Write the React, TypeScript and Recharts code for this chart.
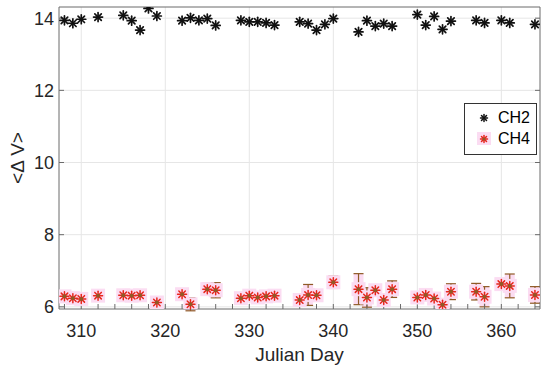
import { ScatterChart, Scatter, XAxis, YAxis, ErrorBar, ReferenceLine, Legend } from 'recharts';

const FONT = '"Liberation Sans", Arial, Helvetica, sans-serif';
const AXIS = '#6b6b6b';
const TEXT = '#262626';
const GRID = '#e6e6e6';
const PINK = '#fbdcf2';
const RED = '#e8261c';
const BROWN = '#8f5a26';

// CH2 (top row)
const ch2Days = [308, 309, 310, 312, 315, 316, 317, 318, 319, 322, 323, 324, 325, 326, 329, 330, 331, 332, 333, 336, 337, 338, 339, 340, 343, 344, 345, 346, 347, 350, 351, 352, 353, 354, 357, 358, 360, 361, 364];
const ch2Values = [13.94, 13.86, 13.97, 14.03, 14.08, 13.93, 13.67, 14.27, 14.06, 13.93, 14.01, 13.94, 13.99, 13.8, 13.94, 13.9, 13.9, 13.87, 13.81, 13.9, 13.85, 13.67, 13.83, 13.99, 13.62, 13.93, 13.78, 13.85, 13.78, 14.1, 13.81, 14.05, 13.69, 13.92, 13.94, 13.87, 13.94, 13.87, 13.83];

// CH4 (bottom row, with error bars)
const ch4Days = [308, 309, 310, 312, 315, 316, 317, 319, 322, 323, 325, 326, 329, 330, 331, 332, 333, 336, 337, 338, 340, 343, 344, 345, 346, 347, 350, 351, 352, 353, 354, 357, 358, 360, 361, 364];
const ch4Values = [6.29, 6.24, 6.22, 6.31, 6.32, 6.31, 6.32, 6.12, 6.35, 6.07, 6.49, 6.46, 6.24, 6.31, 6.26, 6.29, 6.31, 6.19, 6.33, 6.32, 6.68, 6.49, 6.26, 6.46, 6.19, 6.49, 6.26, 6.33, 6.23, 6.06, 6.42, 6.42, 6.28, 6.63, 6.58, 6.33];
const ch4Errors = [0.05, 0.04, 0.05, 0.04, 0.05, 0.05, 0.06, 0.06, 0.06, 0.18, 0.16, 0.21, 0.08, 0.06, 0.14, 0.06, 0.06, 0.06, 0.29, 0.14, 0.17, 0.43, 0.27, 0.15, 0.05, 0.23, 0.06, 0.05, 0.08, 0.08, 0.22, 0.23, 0.28, 0.06, 0.33, 0.23];

const xTicks = [308, 310, 312, 314, 316, 318, 320, 322, 324, 326, 328, 330, 332, 334, 336, 338, 340, 342, 344, 346, 348, 350, 352, 354, 356, 358, 360, 362, 364];
const xMajor = [310, 320, 330, 340, 350, 360];
const yTicks = [6, 8, 10, 12, 14];

const xDomain = [307.35, 364.6];
const yDomain = [5.94, 14.31];

const ch2Rows = ch2Days.map((day, i) => ({ day, v: ch2Values[i] }));
const ch4Rows = ch4Days.map((day, i) => ({ day, v: ch4Values[i], err: ch4Errors[i] }));

const Asterisk = ({ cx, cy, color, r = 4.5, w = 1.5 }: any) => {
  const d = r * 0.72;
  return (
    <g stroke={color} strokeWidth={w} strokeLinecap="round">
      <line x1={cx - r} y1={cy} x2={cx + r} y2={cy} />
      <line x1={cx} y1={cy - r} x2={cx} y2={cy + r} />
      <line x1={cx - d} y1={cy - d} x2={cx + d} y2={cy + d} />
      <line x1={cx - d} y1={cy + d} x2={cx + d} y2={cy - d} />
    </g>
  );
};

const Ch2Shape = (props: any) => <Asterisk cx={props.cx} cy={props.cy} color="#111" w={1.7} />;

const Ch4Shape = (props: any) => (
  <g>
    <Asterisk cx={props.cx} cy={props.cy} color={RED} />
    <circle cx={props.cx} cy={props.cy} r={2} fill={BROWN} />
  </g>
);

const PinkShape = (props: any) => (
  <rect x={props.cx - 7} y={props.cy - 7} width={14} height={14} fill={PINK} />
);

const LegendBox = () => (
  <div
    style={{
      position: 'relative',
      width: 71,
      height: 50,
      border: '1px solid #333',
      background: '#fff',
      fontFamily: FONT,
      fontSize: 16,
      color: '#000',
    }}
  >
    <svg width={30} height={50} style={{ position: 'absolute', left: 0, top: 0 }}>
      <Asterisk cx={19} cy={14} color="#111" r={3.5} />
      <rect x={12} y={28} width={14} height={13} fill={PINK} />
      <Asterisk cx={19} cy={35} color={RED} r={3.5} />
      <circle cx={19} cy={35} r={1.5} fill={BROWN} />
    </svg>
    <div style={{ position: 'absolute', left: 33, top: 5, lineHeight: '18px' }}>CH2</div>
    <div style={{ position: 'absolute', left: 33, top: 26, lineHeight: '18px' }}>CH4</div>
  </div>
);

const tickStyle = { fill: TEXT, fontSize: 18, fontFamily: FONT };

export default function App() {
  return (
    <div style={{ position: 'absolute', left: 0, top: 0, background: '#fff' }}>
      <ScatterChart width={550} height={372} margin={{ top: 7, right: 10, left: 0, bottom: 0 }}>
        {xMajor.map((v) => (
          <ReferenceLine key={'gx' + v} x={v} stroke={GRID} strokeWidth={1} />
        ))}
        {yTicks.map((v) => (
          <ReferenceLine key={'gy' + v} y={v} stroke={GRID} strokeWidth={1} />
        ))}
        <XAxis
          dataKey="day"
          type="number"
          domain={xDomain}
          allowDataOverflow
          ticks={xTicks}
          interval={0}
          tickFormatter={(v: number) => (v % 10 === 0 ? String(v) : '')}
          tickSize={-5}
          tickMargin={20}
          height={63}
          stroke={AXIS}
          tick={tickStyle}
          label={{ value: 'Julian Day', position: 'insideBottom', offset: 11, fill: TEXT, fontSize: 19, fontFamily: FONT }}
        />
        <XAxis
          xAxisId="top"
          orientation="top"
          mirror
          type="number"
          domain={xDomain}
          allowDataOverflow
          ticks={xTicks}
          interval={0}
          tickFormatter={() => ''}
          tickSize={5}
          stroke={AXIS}
        />
        <YAxis
          dataKey="v"
          type="number"
          domain={yDomain}
          allowDataOverflow
          ticks={yTicks}
          interval={0}
          tickSize={-5}
          tickMargin={10}
          width={59}
          stroke={AXIS}
          tick={tickStyle}
          label={{ value: '<Δ V>', angle: -90, position: 'insideLeft', offset: 17, fill: TEXT, fontSize: 19, fontFamily: FONT, style: { textAnchor: 'middle' } }}
        />
        <YAxis
          yAxisId="right"
          orientation="right"
          mirror
          type="number"
          domain={yDomain}
          allowDataOverflow
          ticks={yTicks}
          interval={0}
          tickFormatter={() => ''}
          tickSize={5}
          stroke={AXIS}
        />
        <Scatter name="bg" data={ch4Rows} shape={PinkShape} isAnimationActive={false} legendType="none">
          <ErrorBar dataKey="err" direction="y" width={0} stroke={PINK} strokeWidth={10} />
        </Scatter>
        <Scatter name="CH4" data={ch4Rows} shape={Ch4Shape} isAnimationActive={false}>
          <ErrorBar dataKey="err" direction="y" width={5} stroke={BROWN} strokeWidth={1.2} />
        </Scatter>
        <Scatter name="CH2" data={ch2Rows} shape={Ch2Shape} isAnimationActive={false} />
        <Legend
          layout="horizontal"
          verticalAlign="middle"
          align="center"
          content={LegendBox}
          wrapperStyle={{ left: 464, top: 103, width: 73, height: 52 }}
        />
      </ScatterChart>
    </div>
  );
}
